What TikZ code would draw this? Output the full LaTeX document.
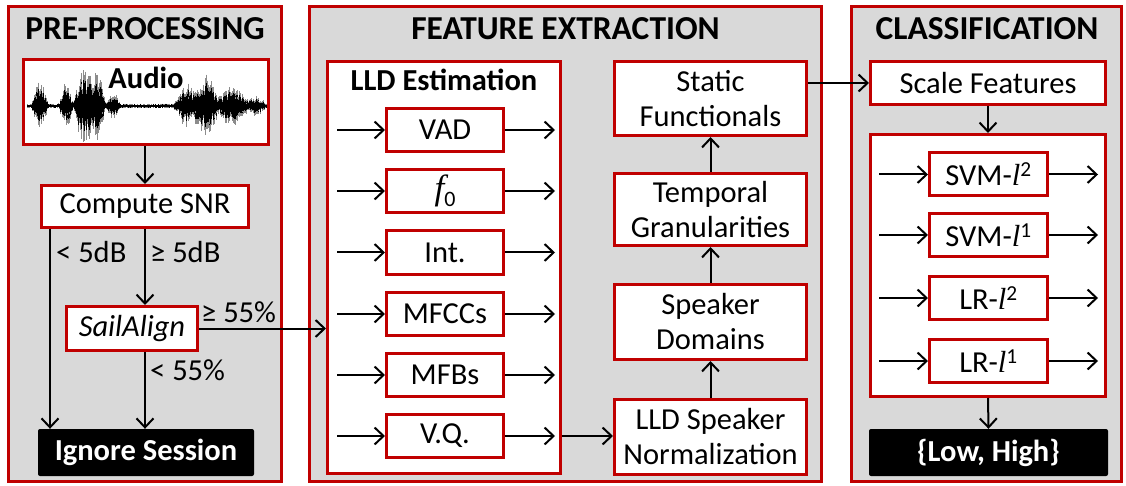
\documentclass[tikz,border=0pt]{standalone}
\usepackage{fontspec}
\setmainfont{Carlito}
\newfontfamily\symital{Liberation Serif}
\usetikzlibrary{arrows.meta}
\definecolor{frame}{HTML}{C00000}
\definecolor{panelgray}{HTML}{D9D9D9}
\newcommand{\hdfont}{\fontsize{33.5}{35}\selectfont\bfseries}
\newcommand{\bdfont}{\fontsize{30.5}{35}\selectfont}
\newcommand{\bdbold}{\fontsize{30.5}{35}\selectfont\bfseries}
\newcommand{\varsym}[1]{{\symital\itshape #1}}

\begin{document}
\begin{tikzpicture}[x=1pt,y=-1pt,
  declare function={bump(\t,\c,\w)=pow(max(0,1-((\t-\c)/\w)*((\t-\c)/\w)),2);},
  panelbox/.style={draw=frame, line width=2.5pt, fill=panelgray, inner sep=0pt},
  box/.style={draw=frame, line width=3pt, fill=white, inner sep=0pt, align=center, font=\bdfont},
  darkbox/.style={fill=black, text=white, inner sep=0pt, rounded corners=2pt, font=\bdbold},
  heading/.style={font=\hdfont, inner sep=0pt},
  lbl/.style={font=\bdfont, inner sep=0pt, anchor=west},
  arr/.style={line width=2pt, -{Straight Barb[length=9pt,width=17pt,line width=2pt]}}
]
\useasboundingbox (0,0) rectangle (1126,486);

% ---------- three stage panels ----------
\node[panelbox, minimum width=273pt, minimum height=475pt] (p1) at (145,244) {};
\node[panelbox, minimum width=512pt, minimum height=475pt] (p2) at (565.5,244) {};
\node[panelbox, minimum width=270pt, minimum height=475pt] (p3) at (986.5,244) {};
\node[heading] (h1) at (145,29) {PRE-PROCESSING};
\node[heading] (h2) at (565.5,29) {FEATURE EXTRACTION};
\node[heading] (h3) at (987,29) {CLASSIFICATION};

% ---------- pre-processing ----------
\node[box, minimum width=245pt, minimum height=85pt] (audio) at (146,102) {};
\pgfmathsetseed{11}
\foreach \x in {27,27.7,...,267} {
  \pgfmathsetmacro\amp{2.5 + 26*bump(\x,40,9) + 22*bump(\x,66,8) + 40*bump(\x,84,12)
     + 32*bump(\x,97,10) + 12*bump(\x,113,8) + 20*bump(\x,188,16)
     + 30*bump(\x,207,14) + 18*bump(\x,232,20) + 8*bump(\x,256,12)}
  \pgfmathsetmacro\up{\amp*(0.4+0.6*rnd)}
  \pgfmathsetmacro\dn{\amp*(0.4+0.6*rnd)}
  \draw[black!45, line width=0.8pt] (\x,106-\up) -- (\x,106+\dn);
  \draw[black, line width=0.8pt] (\x,106-0.72*\up) -- (\x,106+0.72*\dn);
}
\node[font=\bdbold, inner sep=0pt] (audiolbl) at (146,78) {Audio};

\node[box, minimum width=207pt, minimum height=42pt] (snr) at (145,206.5) {Compute SNR};
\node[box, minimum width=131pt, minimum height=44pt] (sail) at (132,328.5) {\itshape SailAlign};
\node[darkbox, minimum width=216pt, minimum height=47pt] (ignore) at (146,452.5) {Ignore Session};
\coordinate (lx) at (50,0);

\draw[arr] (audio.south -| snr) -- (snr.north);
\draw[arr] (snr.south -| lx) -- (ignore.north -| lx);
\draw[arr] (snr.south) -- (snr.south |- sail.north);
\draw[arr] (sail.south -| snr) -- (ignore.north -| snr);

\node[lbl] (lowsnr) at (56,252) {< 5dB};
\node[lbl] (highsnr) at (150,252) {≥ 5dB};
\node[lbl] (highal) at (201,312) {≥ 55\%};
\node[lbl] (lowal) at (150,370) {< 55\%};

% ---------- feature extraction ----------
\node[box, minimum width=233pt, minimum height=412pt] (lld) at (444,267.5) {};
\node[font=\bdbold, inner sep=0pt] (lldt) at (444,80) {LLD Estimation};
\draw[arr] (sail.east) -- (sail.east -| lld.west);

\coordinate (lin) at (337,0);
\coordinate (lout) at (555,0);
\foreach \n/\t/\yy in {vad/VAD/130, fz/{\varsym{\fontsize{35}{35}\selectfont f}\raisebox{-7pt}{\fontsize{22}{22}\selectfont 0}}/191, int/Int./252.5, mfcc/MFCCs/314, mfb/MFBs/375, vq/V.Q./436} {
  \node[box, minimum width=117pt, minimum height=43pt] (\n) at (445,\yy) {\t};
  \draw[arr] (lin |- \n.west) -- (\n.west);
  \draw[arr] (\n.east) -- (lout |- \n.east);
}

\node[box, minimum width=192pt, minimum height=74pt] (stat) at (710.5,98.5) {Static\\Functionals};
\node[box, minimum width=192pt, minimum height=72pt] (temp) at (710.5,209.5) {Temporal\\Granularities};
\node[box, minimum width=192pt, minimum height=75pt] (dom) at (710.5,322) {Speaker\\Domains};
\node[box, minimum width=192pt, minimum height=75pt] (norm) at (710.5,437) {LLD Speaker\\Normalization};

\draw[arr] (vq.east -| lld.east) -- (vq.east -| norm.west);
\draw[arr] (norm.north) -- (dom.south);
\draw[arr] (dom.north) -- (temp.south);
\draw[arr] (temp.north) -- (stat.south);

% ---------- classification ----------
\node[box, minimum width=235pt, minimum height=43pt] (scale) at (988,83) {Scale Features};
\node[box, minimum width=235pt, minimum height=262pt] (clf) at (988,265.5) {};
\node[darkbox, minimum width=239pt, minimum height=47pt] (out) at (988.5,452.5) {\{Low, High\}};

\draw[arr] (stat.east |- scale.west) -- (scale.west);
\draw[arr] (scale.south) -- (clf.north);
\draw[arr] (clf.south) -- (out.north);

\coordinate (cin) at (879,0);
\coordinate (cout) at (1098,0);
\foreach \n/\t/\yy in {svmb/{SVM-\varsym{l}\textsuperscript{2}}/174.5, svma/{SVM-\varsym{l}\textsuperscript{1}}/235, lrb/{LR-\varsym{l}\textsuperscript{2}}/298, lra/{LR-\varsym{l}\textsuperscript{1}}/361} {
  \node[box, minimum width=118pt, minimum height=43pt] (\n) at (988.5,\yy) {\t};
  \draw[arr] (cin |- \n.west) -- (\n.west);
  \draw[arr] (\n.east) -- (cout |- \n.east);
}
\end{tikzpicture}
\end{document}
